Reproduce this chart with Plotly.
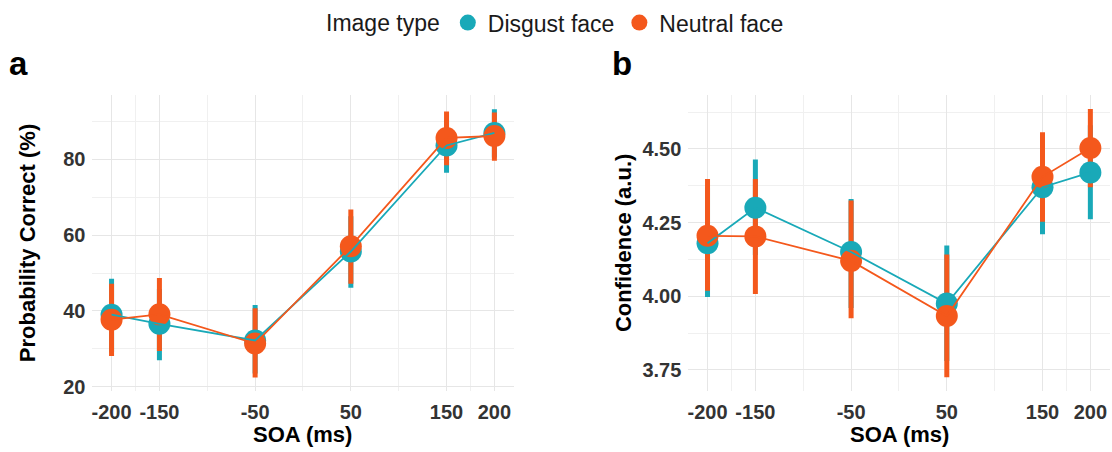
import plotly.graph_objects as go

# ---- data ----
soa = [-200, -150, -50, 50, 150, 200]
soa_ticks = [-200, -150, -50, 50, 150, 200]
soa_minor = [-175, -100, 0, 100, 175]

disgust_acc = [39.0, 36.6, 32.2, 55.7, 83.7, 87.0]
disgust_acc_lo = [29.0, 27.0, 23.5, 46.1, 76.5, 80.5]
disgust_acc_hi = [48.5, 45.8, 41.6, 65.0, 90.5, 93.3]
neutral_acc = [37.7, 39.1, 31.4, 57.1, 85.7, 86.2]
neutral_acc_lo = [28.1, 29.4, 22.4, 47.2, 78.5, 79.7]
neutral_acc_hi = [47.2, 48.7, 40.7, 66.8, 92.7, 92.4]

disgust_conf = [4.18, 4.30, 4.15, 3.975, 4.37, 4.42]
disgust_conf_lo = [3.997, 4.14, 3.96, 3.78, 4.21, 4.261]
disgust_conf_hi = [4.37, 4.464, 4.33, 4.172, 4.53, 4.58]
neutral_conf = [4.205, 4.203, 4.12, 3.933, 4.405, 4.503]
neutral_conf_lo = [4.019, 4.008, 3.925, 3.725, 4.253, 4.37]
neutral_conf_hi = [4.398, 4.398, 4.325, 4.142, 4.556, 4.635]

acc_ticks = [20, 40, 60, 80]
acc_minor = [30, 50, 70, 90]
conf_ticks = [3.75, 4.00, 4.25, 4.50]
conf_ticklabels = ["3.75", "4.00", "4.25", "4.50"]
conf_minor = [3.875, 4.125, 4.375, 4.625]

series_names = ["Disgust face", "Neutral face"]

# ---- style ----
TEAL = "#19A9B8"
ORANGE = "#F4581C"
FONT = "Liberation Sans, Arial, sans-serif"
W, H = 1112, 452


def px(v):  # horizontal pixel -> paper
    return v / W


def py(v):  # vertical pixel (from top) -> paper
    return 1 - v / H


fig = go.Figure()

panels = [
    ("x", "y", disgust_acc, disgust_acc_lo, disgust_acc_hi,
     neutral_acc, neutral_acc_lo, neutral_acc_hi),
    ("x2", "y2", disgust_conf, disgust_conf_lo, disgust_conf_hi,
     neutral_conf, neutral_conf_lo, neutral_conf_hi),
]

for pi, (xa, ya, dm, dl, dh, nm, nl, nh) in enumerate(panels):
    groups = [(dm, dl, dh, TEAL, series_names[0]), (nm, nl, nh, ORANGE, series_names[1])]
    # error bars layer
    for m, lo, hi, col, name in groups:
        fig.add_trace(go.Scatter(
            x=soa, y=m, xaxis=xa, yaxis=ya, mode="markers",
            marker=dict(size=1, color="rgba(0,0,0,0)"),
            error_y=dict(type="data", symmetric=False,
                         array=[h - v for h, v in zip(hi, m)],
                         arrayminus=[v - l for v, l in zip(m, lo)],
                         thickness=5, width=0, color=col),
            showlegend=False, hoverinfo="skip"))
    # points layer
    for m, lo, hi, col, name in groups:
        fig.add_trace(go.Scatter(
            x=soa, y=m, xaxis=xa, yaxis=ya, mode="markers",
            marker=dict(size=22, color=col),
            name=name, legendgroup=name, showlegend=(pi == 0)))
    # lines layer
    for m, lo, hi, col, name in groups:
        fig.add_trace(go.Scatter(
            x=soa, y=m, xaxis=xa, yaxis=ya, mode="lines",
            line=dict(color=col, width=1.8),
            showlegend=False, hoverinfo="skip"))

grid_major = "#E6E6E6"
grid_minor = "#F0F0F0"
tickfont = dict(family=FONT, size=20, color="#333333", weight="bold")

xcommon = dict(range=[-220, 220], tickvals=soa_ticks, ticktext=[str(t) for t in soa_ticks],
               showgrid=True, gridcolor=grid_major, gridwidth=1.2, zeroline=False,
               showline=False, ticks="", tickfont=tickfont, ticklabelstandoff=7,
               minor=dict(tickvals=soa_minor, showgrid=True, gridcolor=grid_minor, gridwidth=0.8))

ydom = [py(397), py(97)]

fig.update_layout(
    width=W, height=H,
    margin=dict(l=0, r=0, t=0, b=0),
    paper_bgcolor="white", plot_bgcolor="white",
    font=dict(family=FONT, color="#1a1a1a"),
    xaxis=dict(domain=[px(91.5), px(513)], anchor="y", **xcommon),
    xaxis2=dict(domain=[px(688), px(1109.5)], anchor="y2", **xcommon),
    yaxis=dict(domain=ydom, anchor="x", range=[18.9, 96.9], tickvals=acc_ticks,
               ticktext=[str(t) for t in acc_ticks],
               showgrid=True, gridcolor=grid_major, gridwidth=1.2, zeroline=False,
               ticks="", tickfont=tickfont, ticklabelstandoff=6,
               minor=dict(tickvals=acc_minor, showgrid=True, gridcolor=grid_minor, gridwidth=0.8)),
    yaxis2=dict(domain=ydom, anchor="x2", range=[3.679, 4.681], tickvals=conf_ticks,
                ticktext=conf_ticklabels,
                showgrid=True, gridcolor=grid_major, gridwidth=1.2, zeroline=False,
                ticks="", tickfont=tickfont, ticklabelstandoff=6,
                minor=dict(tickvals=conf_minor, showgrid=True, gridcolor=grid_minor, gridwidth=0.8)),
    legend=dict(orientation="h", x=0.5, xanchor="center", y=py(23), yanchor="middle",
                title=dict(text="Image type", font=dict(family=FONT, size=23, color="#1a1a1a")),
                font=dict(family=FONT, size=23, color="#1a1a1a"),
                bgcolor="rgba(0,0,0,0)"),
    showlegend=True,
)

ann_title = dict(family=FONT, size=22, color="#000000", weight="bold")
annotations = [
    dict(text="a", x=px(18), y=py(64), xref="paper", yref="paper", showarrow=False,
         xanchor="center", yanchor="middle", font=dict(family=FONT, size=33, color="#000", weight="bold")),
    dict(text="b", x=px(622), y=py(64), xref="paper", yref="paper", showarrow=False,
         xanchor="center", yanchor="middle", font=dict(family=FONT, size=33, color="#000", weight="bold")),
    dict(text="SOA (ms)", x=px(302), y=py(441), xref="paper", yref="paper", showarrow=False,
         xanchor="center", yanchor="middle", font=ann_title),
    dict(text="SOA (ms)", x=px(899), y=py(441), xref="paper", yref="paper", showarrow=False,
         xanchor="center", yanchor="middle", font=ann_title),
    dict(text="Probability Correct (%)", x=px(26), y=py(247), xref="paper", yref="paper",
         showarrow=False, textangle=-90, xanchor="center", yanchor="middle", font=ann_title),
    dict(text="Confidence (a.u.)", x=px(622.5), y=py(247), xref="paper", yref="paper",
         showarrow=False, textangle=-90, xanchor="center", yanchor="middle", font=ann_title),
]
fig.update_layout(annotations=annotations)

fig.write_html("out.html")
